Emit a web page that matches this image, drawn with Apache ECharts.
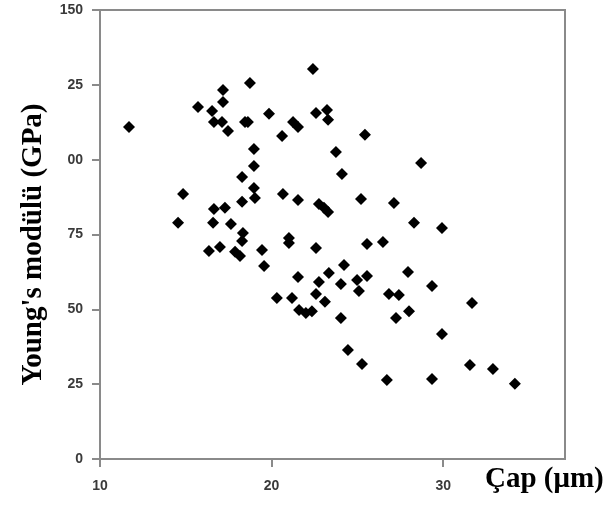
<!DOCTYPE html>
<html>
<head>
<meta charset="utf-8">
<script src="https://cdn.jsdelivr.net/npm/echarts@6/dist/echarts.min.js"></script>
<style>
  html, body { margin: 0; padding: 0; background: #fff; }
  #chart { width: 608px; height: 508px; }
</style>
</head>
<body>
<div id="chart"></div>
<script>
// fibre diameter (um) and Young's modulus (GPa)
var capX = [
    11.69, 15.71, 16.53, 17.17, 17.17, 18.74, 16.64, 17.11, 17.46, 18.45,
    18.62, 18.97, 18.97, 18.28, 19.85, 20.61, 21.25, 21.54, 22.41, 22.59,
    23.23, 23.29, 23.75, 25.44, 24.10, 28.71, 14.84, 18.97, 19.03, 20.66,
    21.54, 18.28, 16.64, 17.28, 22.76, 23.05, 23.29, 25.21, 27.13, 14.55,
    16.59, 17.63, 18.33, 28.30, 29.93, 18.28, 16.35, 16.99, 17.87, 18.16,
    19.44, 19.56, 21.01, 21.01, 22.59, 25.56, 26.49, 21.54, 22.76, 23.34,
    24.22, 24.04, 24.98, 25.56, 25.09, 27.95, 29.35, 20.31, 21.19, 22.59,
    23.11, 21.60, 22.00, 22.35, 24.04, 26.84, 27.42, 28.01, 27.25, 31.68,
    29.93, 24.45, 25.27, 26.72, 29.35, 31.56, 32.90, 34.18
];
var modulus = [
    110.9, 117.6, 116.3, 123.3, 119.3, 125.6, 112.6, 112.6, 109.6, 112.6,
    112.6, 103.6, 97.9, 94.2, 115.3, 107.9, 112.6, 110.9, 130.3, 115.6,
    116.6, 113.3, 102.6, 108.3, 95.2, 98.9, 88.5, 90.5, 87.2, 88.5,
    86.5, 85.9, 83.5, 83.9, 85.2, 83.9, 82.5, 86.9, 85.5, 78.9,
    78.9, 78.5, 75.5, 78.9, 77.2, 72.8, 69.5, 70.8, 69.2, 67.8,
    69.8, 64.5, 73.8, 72.2, 70.5, 71.8, 72.5, 60.8, 59.1, 62.1,
    64.8, 58.5, 59.8, 61.1, 56.1, 62.5, 57.8, 53.8, 53.8, 55.1,
    52.5, 49.8, 48.8, 49.4, 47.1, 55.1, 54.8, 49.4, 47.1, 52.1,
    41.8, 36.4, 31.7, 26.4, 26.7, 31.4, 30.1, 25.1
];
var xTicks = [10, 20, 30];
// the leading "1" of 100 and 125 is hidden in the original picture
var yTickText = { 0: '0', 25: '25', 50: '50', 75: '75', 100: '00', 125: '25', 150: '150' };

var points = [];
for (var i = 0; i < capX.length; i++) {
    points.push([capX[i], modulus[i]]);
}

var axisGray = '#8a8a8a';
var labelStyle = {
    color: '#3a3a3a',
    fontFamily: 'Liberation Sans',
    fontWeight: 'bold',
    fontSize: 14
};
var titleStyle = {
    fontFamily: 'Liberation Serif',
    fontWeight: 'bold',
    fontSize: 29,
    color: '#000'
};

var chart = echarts.init(document.getElementById('chart'));
chart.setOption({
    animation: false,
    backgroundColor: '#fff',
    grid: {
        left: 100, right: 43, top: 10, bottom: 49,
        show: true,
        borderColor: axisGray,
        borderWidth: 2
    },
    xAxis: {
        type: 'value',
        min: 10,
        max: 37.1,
        interval: 10,
        splitLine: { show: false },
        axisLine: { lineStyle: { color: axisGray, width: 2 } },
        axisTick: { length: 8, customValues: xTicks, lineStyle: { color: axisGray, width: 2 } },
        axisLabel: Object.assign({ margin: 20, customValues: xTicks }, labelStyle),
        name: 'Çap (μm)',
        nameLocation: 'end',
        nameGap: -80,
        nameTextStyle: Object.assign({
            align: 'left',
            verticalAlign: 'top',
            padding: [6, 0, 0, 0]
        }, titleStyle)
    },
    yAxis: {
        type: 'value',
        min: 0,
        max: 150,
        interval: 25,
        splitLine: { show: false },
        axisLine: { lineStyle: { color: axisGray, width: 2 } },
        axisTick: { length: 8, lineStyle: { color: axisGray, width: 2 } },
        axisLabel: Object.assign({
            margin: 17,
            formatter: function (v) { return yTickText[v]; }
        }, labelStyle),
        name: "Young's modülü (GPa)",
        nameLocation: 'middle',
        nameRotate: 90,
        nameGap: 52,
        nameTextStyle: Object.assign({ padding: [0, 20, 0, 0] }, titleStyle)
    },
    series: [{
        type: 'scatter',
        data: points,
        symbol: 'diamond',
        symbolSize: 12,
        itemStyle: { color: '#000', opacity: 1 }
    }]
});
</script>
</body>
</html>
